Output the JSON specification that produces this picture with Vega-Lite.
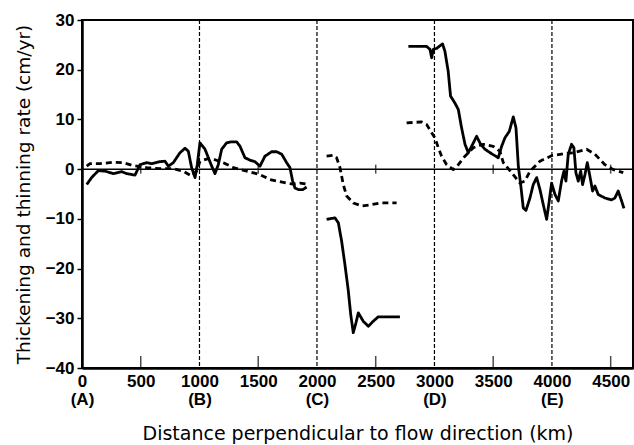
{
  "$schema": "https://vega.github.io/schema/vega-lite/v6.json",
  "width": 551,
  "height": 348,
  "autosize": "none",
  "padding": {"left": 82, "top": 20, "right": 1, "bottom": 77},
  "background": "white",
  "config": {
    "view": {"stroke": "black", "strokeWidth": 2},
    "font": "Liberation Sans",
    "axis": {"grid": false, "domainColor": "black", "tickColor": "black", "labelColor": "black", "titleColor": "black"}
  },
  "datasets": {
    "lines": [
      {"x":40,"y":-3.1,"g":"s1","s":"solid"},{"x":82,"y":-1.7,"g":"s1","s":"solid"},{"x":139,"y":-0.3,"g":"s1","s":"solid"},{"x":196,"y":-0.4,"g":"s1","s":"solid"},{"x":266,"y":-0.9,"g":"s1","s":"solid"},{"x":338,"y":-0.5,"g":"s1","s":"solid"},{"x":380,"y":-0.9,"g":"s1","s":"solid"},{"x":451,"y":-1.2,"g":"s1","s":"solid"},{"x":494,"y":0.9,"g":"s1","s":"solid"},{"x":550,"y":1.3,"g":"s1","s":"solid"},{"x":593,"y":1.1,"g":"s1","s":"solid"},{"x":664,"y":1.5,"g":"s1","s":"solid"},{"x":706,"y":1.6,"g":"s1","s":"solid"},{"x":735,"y":0.6,"g":"s1","s":"solid"},{"x":777,"y":1.3,"g":"s1","s":"solid"},{"x":834,"y":3.3,"g":"s1","s":"solid"},{"x":877,"y":4.2,"g":"s1","s":"solid"},{"x":905,"y":3.6,"g":"s1","s":"solid"},{"x":933,"y":0.3,"g":"s1","s":"solid"},{"x":962,"y":-1.7,"g":"s1","s":"solid"},{"x":981,"y":0.9,"g":"s1","s":"solid"},{"x":1004,"y":5.3,"g":"s1","s":"solid"},{"x":1047,"y":4.0,"g":"s1","s":"solid"},{"x":1104,"y":0.6,"g":"s1","s":"solid"},{"x":1132,"y":-0.9,"g":"s1","s":"solid"},{"x":1160,"y":0.9,"g":"s1","s":"solid"},{"x":1189,"y":4.0,"g":"s1","s":"solid"},{"x":1231,"y":5.3,"g":"s1","s":"solid"},{"x":1274,"y":5.5,"g":"s1","s":"solid"},{"x":1316,"y":5.5,"g":"s1","s":"solid"},{"x":1345,"y":4.6,"g":"s1","s":"solid"},{"x":1387,"y":2.3,"g":"s1","s":"solid"},{"x":1430,"y":1.8,"g":"s1","s":"solid"},{"x":1472,"y":1.5,"g":"s1","s":"solid"},{"x":1515,"y":0.6,"g":"s1","s":"solid"},{"x":1557,"y":2.6,"g":"s1","s":"solid"},{"x":1614,"y":3.5,"g":"s1","s":"solid"},{"x":1657,"y":3.5,"g":"s1","s":"solid"},{"x":1700,"y":3.0,"g":"s1","s":"solid"},{"x":1742,"y":1.3,"g":"s1","s":"solid"},{"x":1770,"y":0.3,"g":"s1","s":"solid"},{"x":1793,"y":-2.4,"g":"s1","s":"solid"},{"x":1813,"y":-3.8,"g":"s1","s":"solid"},{"x":1841,"y":-4.1,"g":"s1","s":"solid"},{"x":1880,"y":-4.1,"g":"s1","s":"solid"},{"x":1912,"y":-3.6,"g":"s1","s":"solid"},
      {"x":40,"y":0.6,"g":"d1","s":"dashed"},{"x":68,"y":1.1,"g":"d1","s":"dashed"},{"x":153,"y":1.1,"g":"d1","s":"dashed"},{"x":266,"y":1.4,"g":"d1","s":"dashed"},{"x":352,"y":1.3,"g":"d1","s":"dashed"},{"x":437,"y":0.7,"g":"d1","s":"dashed"},{"x":550,"y":0.3,"g":"d1","s":"dashed"},{"x":664,"y":0.1,"g":"d1","s":"dashed"},{"x":777,"y":0.1,"g":"d1","s":"dashed"},{"x":862,"y":-0.4,"g":"d1","s":"dashed"},{"x":933,"y":-1.4,"g":"d1","s":"dashed"},{"x":976,"y":-0.4,"g":"d1","s":"dashed"},{"x":1004,"y":1.6,"g":"d1","s":"dashed"},{"x":1075,"y":2.1,"g":"d1","s":"dashed"},{"x":1132,"y":1.9,"g":"d1","s":"dashed"},{"x":1203,"y":1.3,"g":"d1","s":"dashed"},{"x":1288,"y":0.3,"g":"d1","s":"dashed"},{"x":1402,"y":-0.4,"g":"d1","s":"dashed"},{"x":1515,"y":-1.1,"g":"d1","s":"dashed"},{"x":1600,"y":-2.1,"g":"d1","s":"dashed"},{"x":1742,"y":-2.8,"g":"d1","s":"dashed"},{"x":1799,"y":-3.0,"g":"d1","s":"dashed"},{"x":1855,"y":-2.8,"g":"d1","s":"dashed"},{"x":1912,"y":-3.0,"g":"d1","s":"dashed"},
      {"x":2082,"y":2.6,"g":"d2","s":"dashed"},{"x":2139,"y":2.8,"g":"d2","s":"dashed"},{"x":2167,"y":2.3,"g":"d2","s":"dashed"},{"x":2196,"y":0.3,"g":"d2","s":"dashed"},{"x":2224,"y":-3.1,"g":"d2","s":"dashed"},{"x":2253,"y":-5.4,"g":"d2","s":"dashed"},{"x":2309,"y":-6.8,"g":"d2","s":"dashed"},{"x":2380,"y":-7.4,"g":"d2","s":"dashed"},{"x":2451,"y":-7.2,"g":"d2","s":"dashed"},{"x":2536,"y":-6.8,"g":"d2","s":"dashed"},{"x":2621,"y":-6.8,"g":"d2","s":"dashed"},{"x":2678,"y":-6.8,"g":"d2","s":"dashed"},
      {"x":2082,"y":-10.1,"g":"s2","s":"solid"},{"x":2153,"y":-9.8,"g":"s2","s":"solid"},{"x":2182,"y":-10.8,"g":"s2","s":"solid"},{"x":2210,"y":-14.5,"g":"s2","s":"solid"},{"x":2238,"y":-19.2,"g":"s2","s":"solid"},{"x":2267,"y":-24.5,"g":"s2","s":"solid"},{"x":2287,"y":-29.2,"g":"s2","s":"solid"},{"x":2309,"y":-32.9,"g":"s2","s":"solid"},{"x":2332,"y":-30.9,"g":"s2","s":"solid"},{"x":2352,"y":-28.9,"g":"s2","s":"solid"},{"x":2394,"y":-30.6,"g":"s2","s":"solid"},{"x":2437,"y":-31.6,"g":"s2","s":"solid"},{"x":2479,"y":-30.6,"g":"s2","s":"solid"},{"x":2522,"y":-29.7,"g":"s2","s":"solid"},{"x":2621,"y":-29.7,"g":"s2","s":"solid"},{"x":2706,"y":-29.7,"g":"s2","s":"solid"},
      {"x":2778,"y":24.7,"g":"s3","s":"solid"},{"x":2933,"y":24.7,"g":"s3","s":"solid"},{"x":2962,"y":24.1,"g":"s3","s":"solid"},{"x":2976,"y":22.4,"g":"s3","s":"solid"},{"x":2990,"y":24.1,"g":"s3","s":"solid"},{"x":3019,"y":24.3,"g":"s3","s":"solid"},{"x":3069,"y":25.2,"g":"s3","s":"solid"},{"x":3089,"y":23.7,"g":"s3","s":"solid"},{"x":3117,"y":19.7,"g":"s3","s":"solid"},{"x":3137,"y":14.7,"g":"s3","s":"solid"},{"x":3174,"y":13.3,"g":"s3","s":"solid"},{"x":3203,"y":12.0,"g":"s3","s":"solid"},{"x":3231,"y":8.3,"g":"s3","s":"solid"},{"x":3260,"y":5.0,"g":"s3","s":"solid"},{"x":3288,"y":3.3,"g":"s3","s":"solid"},{"x":3325,"y":5.0,"g":"s3","s":"solid"},{"x":3359,"y":6.6,"g":"s3","s":"solid"},{"x":3393,"y":5.0,"g":"s3","s":"solid"},{"x":3430,"y":4.0,"g":"s3","s":"solid"},{"x":3487,"y":3.1,"g":"s3","s":"solid"},{"x":3543,"y":2.3,"g":"s3","s":"solid"},{"x":3572,"y":4.6,"g":"s3","s":"solid"},{"x":3600,"y":6.3,"g":"s3","s":"solid"},{"x":3637,"y":7.6,"g":"s3","s":"solid"},{"x":3671,"y":10.5,"g":"s3","s":"solid"},{"x":3694,"y":8.3,"g":"s3","s":"solid"},{"x":3714,"y":0.6,"g":"s3","s":"solid"},{"x":3734,"y":-3.1,"g":"s3","s":"solid"},{"x":3756,"y":-7.8,"g":"s3","s":"solid"},{"x":3779,"y":-8.3,"g":"s3","s":"solid"},{"x":3813,"y":-5.8,"g":"s3","s":"solid"},{"x":3841,"y":-3.1,"g":"s3","s":"solid"},{"x":3870,"y":-1.7,"g":"s3","s":"solid"},{"x":3898,"y":-4.1,"g":"s3","s":"solid"},{"x":3926,"y":-7.1,"g":"s3","s":"solid"},{"x":3955,"y":-10.1,"g":"s3","s":"solid"},{"x":3977,"y":-6.4,"g":"s3","s":"solid"},{"x":3997,"y":-2.8,"g":"s3","s":"solid"},{"x":4026,"y":-5.1,"g":"s3","s":"solid"},{"x":4054,"y":-6.4,"g":"s3","s":"solid"},{"x":4082,"y":-2.4,"g":"s3","s":"solid"},{"x":4102,"y":-0.4,"g":"s3","s":"solid"},{"x":4119,"y":-2.4,"g":"s3","s":"solid"},{"x":4139,"y":3.0,"g":"s3","s":"solid"},{"x":4167,"y":5.0,"g":"s3","s":"solid"},{"x":4187,"y":4.3,"g":"s3","s":"solid"},{"x":4204,"y":-0.7,"g":"s3","s":"solid"},{"x":4224,"y":-2.4,"g":"s3","s":"solid"},{"x":4245,"y":-0.4,"g":"s3","s":"solid"},{"x":4261,"y":-3.1,"g":"s3","s":"solid"},{"x":4281,"y":-1.1,"g":"s3","s":"solid"},{"x":4301,"y":1.3,"g":"s3","s":"solid"},{"x":4323,"y":-1.4,"g":"s3","s":"solid"},{"x":4346,"y":-4.4,"g":"s3","s":"solid"},{"x":4366,"y":-3.4,"g":"s3","s":"solid"},{"x":4394,"y":-5.1,"g":"s3","s":"solid"},{"x":4451,"y":-5.8,"g":"s3","s":"solid"},{"x":4508,"y":-6.2,"g":"s3","s":"solid"},{"x":4536,"y":-5.8,"g":"s3","s":"solid"},{"x":4564,"y":-4.4,"g":"s3","s":"solid"},{"x":4593,"y":-6.4,"g":"s3","s":"solid"},{"x":4613,"y":-7.9,"g":"s3","s":"solid"},
      {"x":2763,"y":9.3,"g":"d3","s":"dashed"},{"x":2891,"y":9.5,"g":"d3","s":"dashed"},{"x":2933,"y":9.0,"g":"d3","s":"dashed"},{"x":2976,"y":7.3,"g":"d3","s":"dashed"},{"x":3004,"y":6.3,"g":"d3","s":"dashed"},{"x":3033,"y":4.3,"g":"d3","s":"dashed"},{"x":3061,"y":2.6,"g":"d3","s":"dashed"},{"x":3104,"y":0.9,"g":"d3","s":"dashed"},{"x":3160,"y":-0.1,"g":"d3","s":"dashed"},{"x":3203,"y":0.9,"g":"d3","s":"dashed"},{"x":3260,"y":2.6,"g":"d3","s":"dashed"},{"x":3330,"y":4.3,"g":"d3","s":"dashed"},{"x":3415,"y":5.0,"g":"d3","s":"dashed"},{"x":3500,"y":4.6,"g":"d3","s":"dashed"},{"x":3557,"y":3.6,"g":"d3","s":"dashed"},{"x":3586,"y":1.3,"g":"d3","s":"dashed"},{"x":3657,"y":-0.7,"g":"d3","s":"dashed"},{"x":3728,"y":-2.8,"g":"d3","s":"dashed"},{"x":3770,"y":-2.4,"g":"d3","s":"dashed"},{"x":3813,"y":-0.4,"g":"d3","s":"dashed"},{"x":3898,"y":1.6,"g":"d3","s":"dashed"},{"x":3997,"y":2.7,"g":"d3","s":"dashed"},{"x":4097,"y":3.1,"g":"d3","s":"dashed"},{"x":4181,"y":3.3,"g":"d3","s":"dashed"},{"x":4295,"y":4.0,"g":"d3","s":"dashed"},{"x":4366,"y":3.0,"g":"d3","s":"dashed"},{"x":4451,"y":0.9,"g":"d3","s":"dashed"},{"x":4522,"y":-0.1,"g":"d3","s":"dashed"},{"x":4607,"y":-0.7,"g":"d3","s":"dashed"}
    ]
  },
  "layer": [
    {
      "data": {"values": [{"v": 1000}, {"v": 2000}, {"v": 3000}, {"v": 4000}]},
      "mark": {"type": "rule", "color": "black", "strokeWidth": 1.2, "strokeDash": [4, 2]},
      "encoding": {"x": {"field": "v", "type": "quantitative"}}
    },
    {
      "data": {"values": [{"z": 0}]},
      "mark": {"type": "rule", "color": "black", "strokeWidth": 1.5},
      "encoding": {"y": {"field": "z", "type": "quantitative"}}
    },
    {
      "data": {"values": [{"t": 500}, {"t": 1500}, {"t": 2500}, {"t": 3500}, {"t": 4500}]},
      "mark": {"type": "tick", "orient": "vertical", "color": "black", "size": 9, "thickness": 1.5},
      "encoding": {"x": {"field": "t", "type": "quantitative"}, "y": {"datum": 0, "type": "quantitative"}}
    },
    {
      "data": {"values": [{"t": 500}, {"t": 1500}, {"t": 2500}, {"t": 3500}, {"t": 4500}]},
      "mark": {"type": "tick", "orient": "vertical", "color": "black", "size": 12, "thickness": 1.5, "yOffset": -6},
      "encoding": {"x": {"field": "t", "type": "quantitative"}, "y": {"datum": -40, "type": "quantitative"}}
    },
    {
      "data": {"name": "lines"},
      "mark": {"type": "line", "color": "black", "strokeWidth": 2.8, "strokeJoin": "round", "interpolate": "linear"},
      "encoding": {
        "x": {
          "field": "x", "type": "quantitative",
          "scale": {"domain": [0, 4690], "nice": false, "zero": false},
          "axis": {
            "title": "Distance perpendicular to flow direction  (km)",
            "values": [0, 500, 1000, 1500, 2000, 2500, 3000, 3500, 4000, 4500],
            "labelExpr": "datum.value % 1000 == 0 ? [datum.label, '(' + ['A','B','C','D','E'][datum.value/1000] + ')'] : datum.label",
            "format": "d",
            "domainWidth": 2.5, "ticks": false,
            "labelFontSize": 17, "labelFontWeight": "bold", "labelPadding": 5, "labelLineHeight": 18,
            "labelFlush": false, "labelOverlap": false,
            "titleFont": "DejaVu Sans", "titleFontSize": 19, "titleFontWeight": "normal", "titlePadding": 17
          }
        },
        "y": {
          "field": "y", "type": "quantitative",
          "scale": {"domain": [-40, 30], "nice": false, "zero": false},
          "axis": {
            "title": "Thickening and thinning rate (cm/yr)",
            "values": [-40, -30, -20, -10, 0, 10, 20, 30],
            "domainWidth": 2.5, "tickWidth": 1.5, "tickSize": 5,
            "labelFontSize": 17, "labelFontWeight": "bold", "labelPadding": 3,
            "labelFlush": false, "labelOverlap": false,
            "titleFont": "DejaVu Sans", "titleFontSize": 18.5, "titleFontWeight": "normal", "titlePadding": 12
          }
        },
        "detail": {"field": "g", "type": "nominal"},
        "strokeDash": {"field": "s", "type": "nominal", "scale": {"domain": ["solid", "dashed"], "range": [[1, 0], [6, 4]]}, "legend": null}
      }
    }
  ]
}
